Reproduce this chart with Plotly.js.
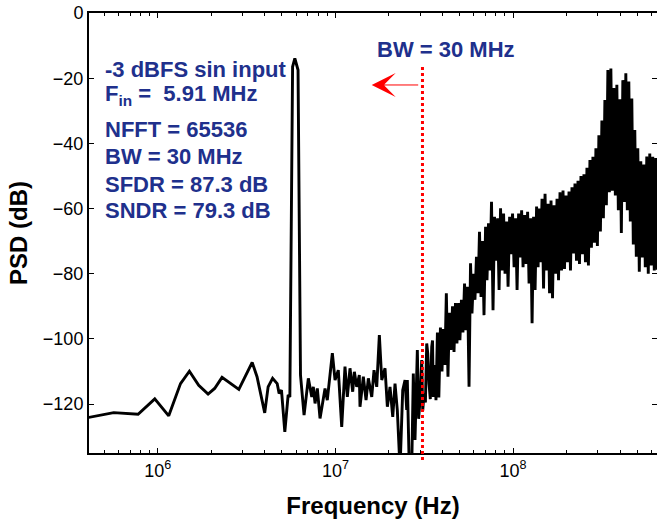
<!DOCTYPE html>
<html>
<head>
<meta charset="utf-8">
<script src="https://cdn.plot.ly/plotly-3.0.1.min.js"></script>
<style>
  html, body { margin: 0; padding: 0; background: #fff; }
  #chart { width: 657px; height: 523px; }
</style>
</head>
<body>
<div id="chart"></div>
<script>
// ---- Data (frequency in MHz, PSD in dB) ----
const lowFreqMHz = [0.39, 0.565, 0.775, 0.962, 1.153, 1.343, 1.507, 1.70, 1.92, 2.09,
  2.30, 2.86, 3.40, 3.62, 4.0, 4.18, 4.43, 4.70, 4.82, 4.97,
  5.19, 5.42, 5.54, 5.74, 5.91, 6.16, 6.36, 6.66, 7.04, 7.36,
  7.51, 7.68, 7.91, 8.19, 8.74, 9.00, 9.61, 9.95, 10.38, 10.85,
  11.32, 11.67, 12.08, 12.51, 12.78, 13.18, 13.63, 13.75, 14.36, 14.87,
  15.32, 16.01, 16.49, 17.08, 17.67, 18.23, 19.02, 19.60, 20.29, 21.02,
  21.65, 22.30, 23.10, 23.92, 24.65, 25.19, 25.39, 26.05, 26.88, 27.44,
  28.05, 28.91, 29.4, 29.94, 30.60, 31.0, 31.53, 32.1, 32.65, 33.1,
  33.63, 34.2, 34.83, 35.2, 35.56, 36.2, 36.81];
const lowPSD = [-124.3, -122.6, -123.1, -118.4, -123.6, -113.7, -109.9, -114.2, -116.9, -115.2,
  -111.8, -115.5, -107.2, -111.6, -122.7, -114.7, -112.1, -113.7, -116.7, -115.7,
  -128.5, -117.2, -117.8, -16.5, -13.9, -17.5, -111.1, -123.4, -112.1, -117.8,
  -114.7, -119.8, -115.2, -124.4, -115.2, -118.8, -104.4, -112.6, -109.6, -127.0,
  -108.5, -117.8, -109.0, -116.2, -110.1, -114.7, -111.1, -120.8, -111.6, -118.8,
  -112.1, -117.8, -109.6, -114.7, -98.8, -112.6, -109.0, -120.8, -114.7, -123.9,
  -113.7, -121.8, -140, -115.7, -112.6, -121.8, -112.6, -140, -140, -110.6,
  -131, -103.4, -124.5, -118.8, -106.5, -122.0, -116.7, -119.5, -101.4, -104.5,
  -113.7, -118.5, -102.4, -100.5, -117.8, -108.0, -118.8];

const midFreqMHz = [37.5, 38.2, 39.0, 39.8, 40.5, 41.3, 42.1, 43.0, 43.8, 44.7,
  45.6, 46.5, 47.4, 48.3, 49.3, 50.2, 51.2, 52.2, 53.3, 54.3,
  55.4, 56.5, 57.6, 58.7, 59.9, 61.0, 62.2, 63.5, 64.7, 66.0,
  67.3, 68.6, 70.0, 71.3, 72.7, 74.2, 75.6, 77.1, 78.6, 80.2,
  81.8, 83.4, 85.0, 86.7, 88.4, 90.1, 91.9, 93.7, 95.6, 97.4,
  99.3, 101.3, 103.3, 105.3, 107.4, 109.5, 111.7, 113.8, 116.1, 118.4,
  120.7, 123.0, 125.5, 127.9, 130.4, 133.0, 135.6, 138.3];
const midPSD = [-98, -118, -96.5, -110, -97, -108, -86, -111.6, -92, -103.4,
  -90, -104, -89, -101.4, -89, -100.4, -88, -98, -83, -97.3,
  -84, -114.7, -76.8, -92.2, -80, -88, -74.8, -86, -67.1, -87.1,
  -70, -92.7, -65.6, -82, -64.5, -79, -57.9, -91.2, -62.5, -76,
  -63, -85, -59.9, -79, -61.5, -80, -64, -84, -62.5, -74,
  -61.5, -78, -63, -85, -61.5, -75, -60.5, -78, -62, -77,
  -61, -83, -63, -95.2, -62.5, -85, -59.4, -78];

const highFreqMHz = [140, 142.7, 145.5, 148.4, 151.3, 154.3, 157.3, 160.4, 163.5, 166.7,
  170, 173.3, 176.7, 180.2, 183.7, 187.3, 191, 194.7, 198.5, 202.4,
  206.4, 210.4, 214.5, 218.7, 223, 227.4, 231.9, 236.4, 241, 245.7,
  250.5, 255.4, 260.4, 265.5, 270.7, 276, 281.4, 286.9, 292.5, 298.2,
  304, 310, 316.1, 322.3, 328.6, 335, 341.6, 348.3, 355.1, 362,
  369.1, 376.3, 383.7, 391.2, 398.9, 406.7, 414.7, 422.8, 431.1, 439.5,
  448.1, 456.9, 465.8, 474.9, 484.2, 493.7, 503.4, 513.3, 523.3, 533.6,
  544, 554.7, 565.5, 576.6, 587.9, 599.4, 611.1, 623.1, 635.3, 647.8];
const highPSD = [-60.0, -76.5, -57.0, -84.5, -55.5, -79.0, -58.5, -86.0, -57.5, -87.5,
  -59.0, -80.0, -57.0, -82.0, -55.0, -79.0, -54.5, -78.5, -56.0, -76.5,
  -54.8, -79.0, -53.5, -73.8, -52.3, -76.0, -51.5, -77.0, -50.0, -74.0,
  -49.5, -76.5, -47.5, -77.5, -45.1, -72.0, -44.1, -70.5, -41.5, -71.5,
  -37.5, -67.0, -33.0, -63.0, -26.7, -59.0, -17.5, -55.0, -17.0, -54.5,
  -23.0, -56.0, -22.0, -60.5, -26.5, -67.5, -20.6, -58.0, -18.5, -60.5,
  -21.0, -64.0, -26.2, -71.0, -35.9, -74.8, -41.5, -79.4, -45.5, -75.0,
  -46.5, -78.0, -44.0, -80.0, -43.1, -77.5, -44.1, -79.0, -44.5, -78.8];

const bandwidthLineMHz = 30.9;
const xTickVals = [1e6, 1e7, 1e8];
const xTickText = ['10<sup>6</sup>', '10<sup>7</sup>', '10<sup>8</sup>'];
const yTickVals = [-120, -100, -80, -60, -40, -20, 0];
const infoLines = ['-3 dBFS sin input', 'F<sub>in</sub> =  5.91 MHz', 'NFFT = 65536',
  'BW = 30 MHz', 'SFDR = 87.3 dB', 'SNDR = 79.3 dB'];
const bwLabel = 'BW = 30 MHz';

// ---- Build trace ----
const allFreqHz = lowFreqMHz.concat(midFreqMHz, highFreqMHz).map(f => f * 1e6);
const allPSD = lowPSD.concat(midPSD, highPSD);

const FONT = 'Liberation Sans, Arial, sans-serif';
const NAVY = 'rgb(32,48,140)';

const trace = {
  x: allFreqHz, y: allPSD, type: 'scatter', mode: 'lines',
  line: { color: 'black', width: 2.9, simplify: false },
  hoverinfo: 'skip', showlegend: false
};

const infoY = [0.8705, 0.8136, 0.7357, 0.6739, 0.6107, 0.5507];
const annotations = infoLines.map((t, i) => ({
  xref: 'paper', yref: 'paper', x: 0.024, y: infoY[i],
  xanchor: 'left', yanchor: 'middle', showarrow: false,
  text: '<b>' + t + '</b>',
  font: { family: FONT, size: 22, color: NAVY }
}));
annotations.push({
  xref: 'paper', yref: 'paper', x: 0.6285, y: 0.9175,
  xanchor: 'center', yanchor: 'middle', showarrow: false,
  text: '<b>' + bwLabel + '</b>',
  font: { family: FONT, size: 22, color: NAVY }
});
annotations.push({
  xref: 'paper', yref: 'paper', x: 0.4977, y: 0.8364,
  text: '', showarrow: true, ax: 48, ay: 0,
  arrowhead: 3, arrowsize: 4, arrowwidth: 1, arrowcolor: 'rgb(255,0,0)'
});

const layout = {
  width: 657, height: 523,
  margin: { l: 89, r: 0, t: 13, b: 70 },
  paper_bgcolor: 'white', plot_bgcolor: 'white',
  font: { family: FONT, size: 18, color: 'black' },
  xaxis: {
    type: 'log', range: [5.613, 8.81],
    tickmode: 'array', tickvals: xTickVals, ticktext: xTickText,
    ticks: 'inside', ticklen: 5, tickwidth: 1, tickcolor: 'black',
    minor: { ticks: 'inside', ticklen: 3, tickwidth: 1, tickcolor: 'black', dtick: 'D1', showgrid: false },
    showline: true, linecolor: 'black', linewidth: 2, mirror: 'ticks',
    showgrid: false, zeroline: false,
    tickfont: { family: FONT, size: 18, color: 'black' },
    title: { text: 'Frequency (Hz)', font: { family: FONT, size: 24, color: 'black', weight: 700 }, standoff: 18 }
  },
  yaxis: {
    range: [-135, 0], tickmode: 'array', tickvals: yTickVals,
    ticks: 'inside', ticklen: 5, tickwidth: 1, tickcolor: 'black',
    showline: true, linecolor: 'black', linewidth: 2, mirror: 'ticks',
    showgrid: false, zeroline: false,
    tickfont: { family: FONT, size: 18, color: 'black' },
    title: { text: 'PSD (dB)', font: { family: FONT, size: 24, color: 'black', weight: 700 }, standoff: 8 }
  },
  shapes: [{
    type: 'line', xref: 'x', yref: 'paper',
    x0: bandwidthLineMHz * 1e6, x1: bandwidthLineMHz * 1e6,
    y0: -7 / 440, y1: 389 / 440,
    line: { color: 'rgb(255,0,0)', width: 3, dash: '3px,3px' }
  }],
  annotations: annotations
};

Plotly.newPlot('chart', [trace], layout, { displayModeBar: false, staticPlot: true });
</script>
</body>
</html>
